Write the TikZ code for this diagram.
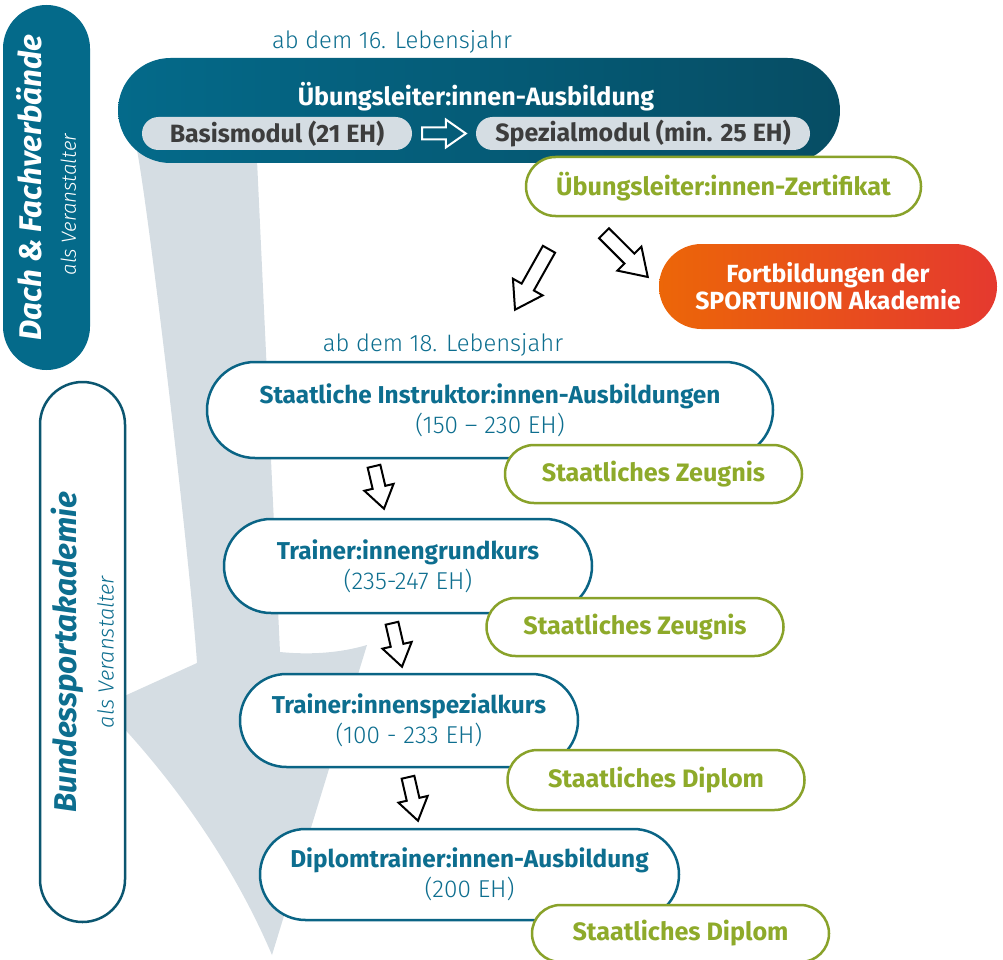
\documentclass[tikz,border=0pt]{standalone}
\usepackage{fontspec}
\setmainfont{Fira Sans}
\IfFontExistsTF{FiraSans-Light.otf}
  {\newfontfamily\lightfont{FiraSans-Light.otf}[ItalicFont=FiraSans-LightItalic.otf]}
  {\IfFontExistsTF{Fira Sans Light}
    {\newfontfamily\lightfont{Fira Sans Light}}
    {\newfontfamily\lightfont{Fira Sans}}}
\usetikzlibrary{shapes.misc,calc,positioning}
\definecolor{tealmain}{HTML}{046A8A}
\definecolor{tealdeep}{HTML}{064D64}
\definecolor{tealline}{HTML}{0A6485}
\definecolor{tealtext}{HTML}{0D6E8F}
\definecolor{bsaline}{HTML}{0B5670}
\definecolor{greyband}{HTML}{D5DDE3}
\definecolor{greenline}{HTML}{89A22A}
\definecolor{greentext}{HTML}{8EAA2A}
\definecolor{orangeleft}{HTML}{EC6608}
\definecolor{orangeright}{HTML}{E5392F}
\definecolor{moduletext}{HTML}{3D3D3D}
\tikzset{
  pill/.style={rounded rectangle, inner sep=0pt},
  stagebox/.style={pill, draw=tealline, line width=2.5pt, fill=white, text=tealtext,
    align=center, font=\fontsize{24.4}{30}\selectfont},
  certbox/.style={pill, draw=greenline, line width=2.5pt, fill=white, text=greentext,
    font=\fontsize{25.2}{28}\selectfont\bfseries, minimum width=297pt, minimum height=58pt},
  modbox/.style={pill, fill=greyband, text=moduletext,
    font=\fontsize{25}{28}\selectfont\bfseries, minimum height=33pt},
  agelabel/.style={text=tealtext, font=\fontsize{23.8}{26}\selectfont\lightfont},
  arrowbody/.style={draw=black, fill=white, line width=2pt, line join=miter}
}
% [style]{from}{to}{stem half width}{head half width}{head length}
\newcommand{\blockarrow}[6][]{%
  \draw[arrowbody,#1] let \p1=($(#3)-(#2)$), \n1={atan2(\y1,\x1)}, \n2={veclen(\x1,\y1)} in
    [shift={(#2)}, rotate=\n1]
    (0,#4) -- (\n2-#6,#4) -- (\n2-#6,#5) -- (\n2,0) -- (\n2-#6,-#5) -- (\n2-#6,-#4) -- (0,-#4) -- cycle;}

\begin{document}
\begin{tikzpicture}[x=1pt,y=-1pt]
\useasboundingbox (0,0) rectangle (1003,960);

\fill[greyband] (137,100) -- (137,150) .. controls (150,220) and (190,560) .. (197,663)
  -- (120,698) -- (120,724) .. controls (190,800) and (240,880) .. (272,955)
  -- (367,645) .. controls (340,653) and (310,655) .. (280,652)
  -- (257,160) -- (257,100) -- cycle;

\node[pill, fill=tealmain, rotate=90, minimum width=365pt, minimum height=87pt, text=white,
  align=center, font=\fontsize{20.5}{34}\selectfont] (dach) at (46.5,187.5)
  {{\fontsize{31.3}{34}\selectfont\bfseries\itshape Dach \& Fachverbände}\\{\lightfont\itshape als Veranstalter\hspace*{34pt}}};
\node[pill, draw=bsaline, line width=2.5pt, fill=white, rotate=90, minimum width=540pt,
  minimum height=85pt, text=tealtext, align=center, font=\fontsize{22}{37}\selectfont] (bsa) at (82.5,652)
  {{\fontsize{31.5}{37}\selectfont\bfseries\itshape Bundessportakademie}\\{\lightfont\itshape als Veranstalter}};

\node[agelabel] (age16) at (392,42) {ab dem 16. Lebensjahr};
\node[pill, left color=tealmain, right color=tealdeep, minimum width=722pt, minimum height=105pt] (ulaus) at (479,110.5) {};
\node[text=white, font=\fontsize{25.1}{28}\selectfont\bfseries] (ultitle) at (476,97) {Übungsleiter:innen-Ausbildung};
\node[modbox, minimum width=270pt] (basis) at (277,133.5) {Basismodul (21 EH)};
\node[modbox, minimum width=334pt] (spezial) at (643,133.5) {Spezialmodul (min. 25 EH)};
\coordinate (ar0s) at ([xshift=10pt]basis.east);
\coordinate (ar0e) at ([xshift=-10pt]spezial.west);
\blockarrow[draw=white, fill=none]{ar0s}{ar0e}{6}{14}{20}

\node[certbox, minimum width=395pt, minimum height=59pt] (zert) at (723.5,186.5) {Übungsleiter:innen-Zertifikat};
\node[pill, left color=orangeleft, right color=orangeright, minimum width=338pt, minimum height=85pt,
  text=white, align=center, font=\fontsize{24.8}{27}\selectfont\bfseries] (fort) at (828,286.5)
  {Fortbildungen der\\SPORTUNION Akademie};

\node[agelabel] (age18) at (443,345) {ab dem 18. Lebensjahr};
\node[stagebox, minimum width=566pt, minimum height=96pt] (staat) at (490,410)
  {{\bfseries Staatliche Instruktor:innen-Ausbildungen}\\{\lightfont (150 – 230 EH)}};
\node[certbox] (zeug1) at (653.5,474) {Staatliches Zeugnis};
\node[stagebox, minimum width=368pt, minimum height=94pt] (tgk) at (408,566)
  {{\bfseries Trainer:innengrundkurs}\\{\lightfont (235-247 EH)}};
\node[certbox] (zeug2) at (635,627) {Staatliches Zeugnis};
\node[stagebox, minimum width=338pt, minimum height=93pt] (tsk) at (409,720.5)
  {{\bfseries Trainer:innenspezialkurs}\\{\lightfont (100 - 233 EH)}};
\node[certbox, minimum height=60pt] (dipl1) at (656,780) {Staatliches Diplom};
\node[stagebox, minimum width=419pt, minimum height=91pt] (dta) at (469.5,874.5)
  {{\bfseries Diplomtrainer:innen-Ausbildung}\\{\lightfont (200 EH)}};
\node[certbox, minimum height=57pt] (dipl2) at (680.5,933.5) {Staatliches Diplom};

\coordinate (arLs) at ([xshift=-174.5pt,yshift=-32pt]zert.south);
\coordinate (arLe) at ([xshift=25pt,yshift=51pt]staat.north);
\coordinate (arRs) at ([xshift=-119.5pt,yshift=-16pt]zert.south);
\coordinate (arRe) at ([xshift=-11pt,yshift=9.5pt]fort.west);
\blockarrow{arLs}{arLe}{7}{17}{26}
\blockarrow{arRs}{arRe}{7}{17}{26}
\coordinate (ar1s) at ([xshift=-116pt,yshift=-7pt]staat.south);
\coordinate (ar1e) at ([xshift=-24pt,yshift=9pt]tgk.north);
\coordinate (ar2s) at ([xshift=-16pt,yshift=-9pt]tgk.south);
\coordinate (ar2e) at ([xshift=-7pt,yshift=6pt]tsk.north);
\coordinate (ar3s) at ([xshift=-1pt,yshift=-9pt]tsk.south);
\coordinate (ar3e) at ([xshift=-51.5pt,yshift=7pt]dta.north);
\blockarrow{ar1s}{ar1e}{6.5}{15}{22}
\blockarrow{ar2s}{ar2e}{6.5}{15}{22}
\blockarrow{ar3s}{ar3e}{6.5}{15}{22}
\end{tikzpicture}
\end{document}
